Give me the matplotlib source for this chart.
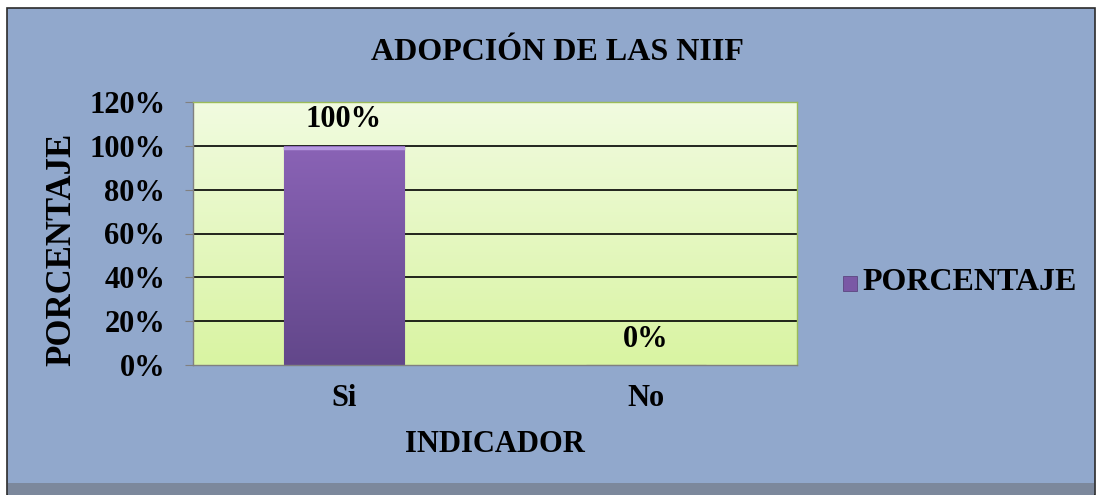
import numpy as np
import matplotlib
matplotlib.use("Agg")
import matplotlib.pyplot as plt
from matplotlib.patches import Rectangle
from matplotlib.colors import LinearSegmentedColormap

categorias = ["Si", "No"]
porcentaje = [1.00, 0.00]
etiquetas = ["100%", "0%"]
ticks_y = [0, 0.2, 0.4, 0.6, 0.8, 1.0, 1.2]

plt.rcParams['font.family'] = ['Liberation Serif', 'DejaVu Serif']
plt.rcParams['font.weight'] = 'bold'

fig = plt.figure(figsize=(11, 4.95), dpi=100)
fig.patch.set_facecolor('white')

# fondo azul con marco
fondo = Rectangle((7/1100, 0), 1088/1100, 487/495, transform=fig.transFigure,
                  facecolor='#91a8cc', edgecolor='#2b2b2b', linewidth=1.2, zorder=-2)
fig.patches.append(fondo)
banda = Rectangle((8/1100, 0), 1086/1100, 12/495, transform=fig.transFigure,
                  facecolor='#7c889c', edgecolor='none', zorder=-1)
fig.patches.append(banda)

ax = fig.add_axes([193/1100, 1-365/495, 604/1100, 263/495])
ax.set_zorder(1)
ax.set_xlim(-0.5, 1.5)
ax.set_ylim(0, 1.2)

# degradado del area de trazado
cmap_area = LinearSegmentedColormap.from_list('area', ['#d9f4a2', '#f1fbe0'])
grad = np.linspace(0, 1, 256).reshape(-1, 1)
ax.imshow(grad, extent=[-0.5, 1.5, 0, 1.2], origin='lower', aspect='auto',
          cmap=cmap_area, zorder=0)

for t in ticks_y[1:]:
    ax.axhline(t, color='black', linewidth=1.2, zorder=1)

x = np.arange(len(categorias))
barras = ax.bar(x, porcentaje, width=0.4, color='#7a58a5', edgecolor='#5c4680',
                linewidth=0.8, zorder=2)
cmap_barra = LinearSegmentedColormap.from_list('barra', ['#62478a', '#8a63b6'])
for b in barras:
    if b.get_height() > 0:
        x0, w, h = b.get_x(), b.get_width(), b.get_height()
        im = ax.imshow(grad, extent=[x0, x0 + w, 0, h], origin='lower', aspect='auto',
                       cmap=cmap_barra, zorder=2.5)
        im.set_clip_path(b)
        ax.plot([x0 + 0.005, x0 + w - 0.005], [h - 0.012, h - 0.012], color='#b598e0',
                linewidth=2.5, zorder=3)

for xi, v, lab in zip(x, porcentaje, etiquetas):
    ax.text(xi, v + 0.055 if v > 0 else 0.05, lab, ha='center', va='bottom',
            fontsize=22, fontweight='bold', zorder=4)

ax.set_xticks(x)
ax.set_xticklabels(categorias, fontsize=22, fontweight='bold')
ax.set_yticks(ticks_y)
ax.set_yticklabels([f"{int(round(t*100))}%" for t in ticks_y], fontsize=22, fontweight='bold')
ax.tick_params(axis='x', length=0, pad=14)
ax.tick_params(axis='y', length=6, color='#808080', pad=14)
for s in ax.spines.values():
    s.set_color('#9bbb59')
    s.set_linewidth(1)
ax.spines['left'].set_color('#808080')
ax.spines['bottom'].set_color('#808080')

ax.set_xlabel("INDICADOR", fontsize=22, fontweight='bold', labelpad=12)
fig.text(62/1100, 1-249/495, "PORCENTAJE", rotation=90, ha='center', va='center',
         fontsize=25, fontweight='bold')
fig.text(557/1100, 1-53/495, "ADOPCIÓN DE LAS NIIF", ha='center', va='center',
         fontsize=23, fontweight='bold')

# leyenda
fig.patches.append(Rectangle((843/1100, 1-291/495), 14/1100, 15/495, transform=fig.transFigure,
                             facecolor='#7a58a5', edgecolor='#5c4680', linewidth=0.6, zorder=3))
fig.text(862/1100, 1-283/495, "PORCENTAJE", ha='left', va='center',
         fontsize=23, fontweight='bold')

fig.savefig("out.png", dpi=100)
